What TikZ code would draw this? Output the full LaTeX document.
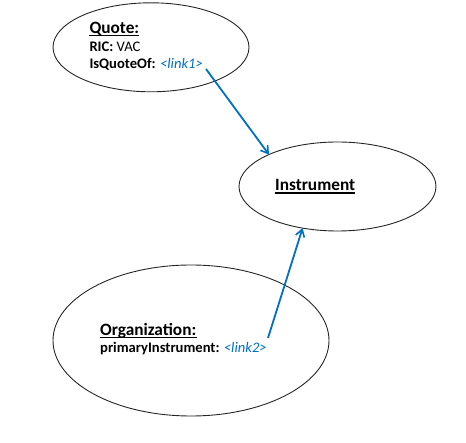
\documentclass[tikz,border=0pt]{standalone}
\usepackage{fontspec}
\setmainfont{Carlito}
\usetikzlibrary{arrows.meta,shapes.geometric}
\definecolor{linkblue}{RGB}{0,112,192}
\tikzset{
  obj/.style={draw=black!85, line width=0.9pt, ellipse, inner sep=0pt, outer sep=0pt},
  ttl/.style={anchor=base west, inner sep=0pt, font=\fontsize{17.3}{19}\selectfont\bfseries},
  body/.style={anchor=base west, inner sep=0pt, font=\fontsize{14.6}{16}\selectfont},
  uline/.style={line width=1.3pt, black},
  link/.style={draw=linkblue, line width=1.8pt, -{Straight Barb[length=7pt,width=9pt,line width=1.6pt]}},
}
\newcommand{\lnk}[1]{\textcolor{linkblue}{\itshape\mdseries<#1>}}
\begin{document}
\begin{tikzpicture}[x=1pt,y=-1pt]
\useasboundingbox (0,0) rectangle (466,443);
% ellipses
\node[obj, minimum width=196pt, minimum height=89pt] (quote) at (151,47.3) {};
\node[obj, minimum width=197pt, minimum height=89pt] (instr) at (337.5,186.5) {};
\node[obj, minimum width=276pt, minimum height=151pt] (org) at (191,340.5) {};
% Quote text
\node[ttl] (qt) at (89.3,33.3) {Quote:};
\draw[uline] ([yshift=-2pt]qt.base west) -- ([yshift=-2pt]qt.base east);
\node[body] (ric) at (89.3,51.7) {\textbf{RIC:} VAC};
\node[body] (isq) at (89.3,69) {\textbf{IsQuoteOf:} \lnk{link1}};
% Instrument text
\node[ttl] (it) at (275,190.7) {Instrument};
\draw[uline] ([yshift=-2.2pt]it.base west) -- ([yshift=-2.2pt]it.base east);
% Organization text
\node[ttl] (ot) at (100,335.7) {Organization:};
\draw[uline] ([yshift=-2pt]ot.base west) -- ([yshift=-2pt]ot.base east);
\node[body] (pri) at (100,352.7) {\textbf{primaryInstrument:} \lnk{link2}};
% connectors
\coordinate (s1) at (206,69);
\coordinate (s2) at (268,338);
\draw[link] (s1) -- (instr.155.25);
\draw[link] (s2) -- (instr.230.5);
\end{tikzpicture}
\end{document}
